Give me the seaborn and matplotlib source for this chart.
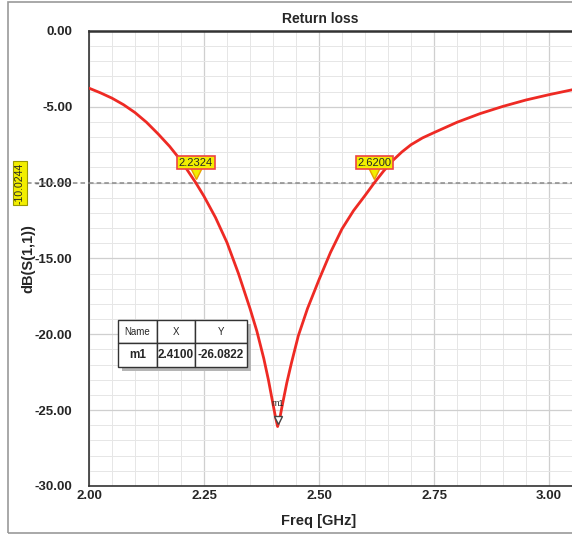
import matplotlib
matplotlib.use("Agg")
import matplotlib.pyplot as plt
import seaborn as sns
import pandas as pd
from matplotlib.patches import Rectangle
from matplotlib.lines import Line2D

# valores (S11 em dB)
freq = [2.000, 2.025, 2.050, 2.075, 2.100, 2.125, 2.150, 2.175, 2.200, 2.2324,
        2.250, 2.275, 2.300, 2.325, 2.350, 2.365, 2.380, 2.390, 2.400, 2.405,
        2.410, 2.415, 2.420, 2.430, 2.440, 2.455, 2.475, 2.500, 2.525, 2.550,
        2.575, 2.600, 2.620, 2.640, 2.660, 2.680, 2.700, 2.725, 2.750, 2.800,
        2.850, 2.900, 2.950, 3.000, 3.050]
s11 = [-3.77, -4.08, -4.43, -4.86, -5.38, -6.02, -6.78, -7.60, -8.55, -10.02,
       -10.90, -12.30, -13.95, -16.00, -18.30, -19.80, -21.60, -23.00, -24.60, -25.40,
       -26.08, -25.50, -24.70, -23.20, -21.90, -20.10, -18.30, -16.40, -14.60, -13.05,
       -11.85, -10.85, -10.02, -9.25, -8.55, -7.98, -7.50, -7.05, -6.70, -6.02,
       -5.45, -4.97, -4.55, -4.20, -3.88]
marker_x = [2.2324, 2.6200]
marker_lbl = ["2.2324", "2.6200"]
nivel = -10.0244
m1_x, m1_y = 2.4100, -26.0822

df = pd.DataFrame({"freq": freq, "s11": s11})

sns.set_style("white")
plt.rcParams['font.family'] = ['Liberation Sans', 'DejaVu Sans']

fig = plt.figure(figsize=(5.72, 5.35), dpi=100)
ax = fig.add_axes([0.1556, 0.0916, 0.8444, 0.8505])

# moldura externa
fig.patches.append(Rectangle((8/572, 2/535), 1.2, 531/535, transform=fig.transFigure,
                             fill=False, edgecolor="#9a9a9a", lw=1.2))

sns.lineplot(data=df, x="freq", y="s11", ax=ax, color="#ee2a24", lw=2, zorder=5)

ax.set_xlim(2.0, 3.05)
ax.set_ylim(-30, 0)
ax.set_xticks([2.00, 2.25, 2.50, 2.75, 3.00])
ax.set_xticklabels(["2.00", "2.25", "2.50", "2.75", "3.00"])
ax.set_xticks([2.0 + 0.05 * i for i in range(22)], minor=True)
ax.set_yticks([0, -5, -10, -15, -20, -25, -30])
ax.set_yticklabels(["0.00", "-5.00", "-10.00", "-15.00", "-20.00", "-25.00", "-30.00"])
ax.set_yticks(list(range(-30, 1)), minor=True)
ax.grid(which="major", color="#cfcfcf", lw=0.9)
ax.grid(which="minor", color="#e6e6e6", lw=0.7)
ax.tick_params(axis="y", which="major", direction="out", length=10, width=1, color="#333333", pad=2,
               labelsize=9.5)
ax.tick_params(axis="y", which="minor", direction="out", length=5, width=1, color="#333333")
ax.tick_params(axis="x", which="both", direction="in", length=4, width=1, color="#333333", pad=3,
               labelsize=9.5)
for lbl in ax.get_xticklabels() + ax.get_yticklabels():
    lbl.set_fontweight("bold")
for s in ["left", "bottom", "top"]:
    ax.spines[s].set_color("#333333")
    ax.spines[s].set_linewidth(1.2)
ax.spines["top"].set_linewidth(1.8)
ax.spines["right"].set_visible(False)

ax.set_xlabel("")
ax.set_ylabel("dB(S(1,1))", fontsize=10.5, fontweight="bold")
ax.yaxis.set_label_coords(-0.112, 0.5)
ax.text(2.5, -32.3, "Freq [GHz]", ha="center", va="center", fontsize=10.5, fontweight="bold")
fig.text(320/572, 1 - 19/535, "Return loss", ha="center", va="center", fontsize=10, fontweight="bold")

# linha de nível tracejada
ax.axhline(nivel, color="#8a8a8a", ls=(0, (3, 2)), lw=1.1, zorder=4)
fig.add_artist(Line2D([27/572, 89/572], [1 - 183/535, 1 - 183/535], transform=fig.transFigure,
                      color="#8a8a8a", ls=(0, (3, 2)), lw=1.1))
fig.text(20/572, 1 - 183/535, "-10.0244", rotation=90, ha="center", va="center", fontsize=7.5,
         bbox=dict(boxstyle="square,pad=0.15", fc="#f2ee00", ec="#9a9a00", lw=0.8))

# marcadores amarelos
for mx, ml in zip(marker_x, marker_lbl):
    ax.plot([mx], [nivel + 0.65], marker="v", ms=8, mfc="#f2ee00", mec="#e8a000", zorder=7)
    ax.text(mx, nivel + 1.35, ml, ha="center", va="center", fontsize=8, zorder=8,
            bbox=dict(boxstyle="square,pad=0.15", fc="#f2ee00", ec="#ee4444", lw=1.2))

# marcador m1
ax.plot([m1_x], [m1_y + 0.45], marker="v", ms=6, mfc="white", mec="#444444", mew=1, zorder=7)
ax.text(m1_x, m1_y + 1.55, "m1", ha="center", va="center", fontsize=6.5, zorder=8)

# tabela do marcador com sombra
x0, y0, w, h = 0.060, 0.2615, 0.267, 0.1035
ax.add_patch(Rectangle((x0 + 0.008, y0 - 0.008), w, h, transform=ax.transAxes,
                       fc="#b5b5b5", ec="none", zorder=8))
tab = ax.table(cellText=[["Name", "X", "Y"], ["m1", "2.4100", "-26.0822"]],
               colWidths=[0.3, 0.3, 0.4], bbox=[x0, y0, w, h], cellLoc="center")
tab.auto_set_font_size(False)
tab.set_zorder(9)
for (r, c), cell in tab.get_celld().items():
    cell.set_facecolor("white")
    cell.set_edgecolor("#333333")
    cell.set_linewidth(1.0)
    cell.PAD = 0.02
    if r == 0:
        cell.get_text().set_fontsize(7)
    else:
        cell.get_text().set_fontsize(8.5)
        cell.get_text().set_fontweight("bold")
for r in (0, 1):
    tab[r, 0].set_width(39 / 483)
    tab[r, 1].set_width(38 / 483)
    tab[r, 2].set_width(52 / 483)

fig.savefig("out.png", dpi=100)
